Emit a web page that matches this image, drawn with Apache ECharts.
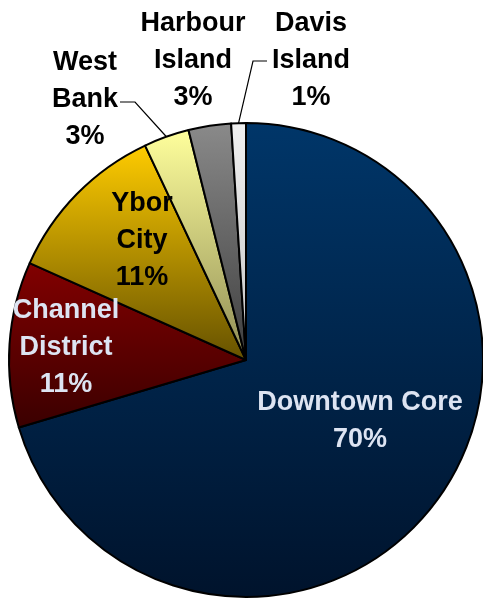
<!DOCTYPE html>
<html>
<head>
<meta charset="utf-8">
<script src="https://cdn.jsdelivr.net/npm/echarts@6/dist/echarts.min.js"></script>
<style>
html,body{margin:0;padding:0;background:#fff;}
#chart{width:483px;height:599px;}
</style>
</head>
<body>
<div id="chart"></div>
<script>
// ---- data ----
const categories = ['Downtown Core', 'Channel District', 'Ybor City', 'West Bank', 'Harbour Island', 'Davis Island'];
const labelNames = ['Downtown Core', 'Channel\nDistrict', 'Ybor\nCity', 'West\nBank', 'Harbour\nIsland', 'Davis\nIsland'];
const shares = [70.4, 11.3, 11.3, 3.1, 2.9, 1.0];

// ---- styles ----
const gradStops = [
  ['#003669', '#00132c'],
  ['#820000', '#3a0000'],
  ['#ffcc00', '#655100'],
  ['#ffff9c', '#8e8b55'],
  ['#8a8a8a', '#3e3e3e'],
  ['#f0f0f0', '#c4c4c4']
];
const labelColors = ['#dde4f2', '#dde4f2', '#000', '#000', '#000', '#000'];
const insideLabel = [true, true, true, false, false, false];
// label block centres and leader-line elbows (layout only)
const labelPos = [
  {x: 360, y: 421},
  {x: 66, y: 348},
  {x: 142, y: 241},
  {x: 85, y: 100, elbow: [135, 102], end: [120, 102]},
  {x: 193, y: 61},
  {x: 311, y: 61, elbow: [253, 61], end: [267, 61]}
];

function grad(i) {
  return new echarts.graphic.LinearGradient(0, 0, 0, 1, [
    {offset: 0, color: gradStops[i][0]},
    {offset: 1, color: gradStops[i][1]}
  ]);
}

const seriesData = categories.map((name, i) => ({
  name: name,
  value: shares[i],
  itemStyle: {color: grad(i)},
  label: {
    position: insideLabel[i] ? 'inside' : 'outside',
    color: labelColors[i]
  },
  labelLine: {show: !!labelPos[i].elbow}
}));

const chart = echarts.init(document.getElementById('chart'), null, {renderer: 'canvas'});
chart.setOption({
  animation: false,
  backgroundColor: '#ffffff',
  series: [{
    type: 'pie',
    center: [246, 360],
    radius: 237,
    startAngle: 90,
    clockwise: true,
    avoidLabelOverlap: false,
    itemStyle: {borderColor: '#000', borderWidth: 2},
    label: {
      show: true,
      fontFamily: 'Liberation Sans, Arial, sans-serif',
      fontWeight: 'bold',
      fontSize: 27,
      lineHeight: 37,
      align: 'center',
      formatter: p => labelNames[p.dataIndex] + '\n' + Math.round(p.value) + '%'
    },
    labelLine: {
      lineStyle: {color: '#000', width: 1.2},
      length: 10,
      length2: 10
    },
    labelLayout: function (params) {
      const lp = labelPos[params.dataIndex];
      const out = {x: lp.x, y: lp.y, align: 'center', verticalAlign: 'middle'};
      if (lp.elbow && params.labelLinePoints) {
        out.labelLinePoints = [params.labelLinePoints[0], lp.elbow, lp.end];
      }
      return out;
    },
    data: seriesData
  }]
});
</script>
</body>
</html>
